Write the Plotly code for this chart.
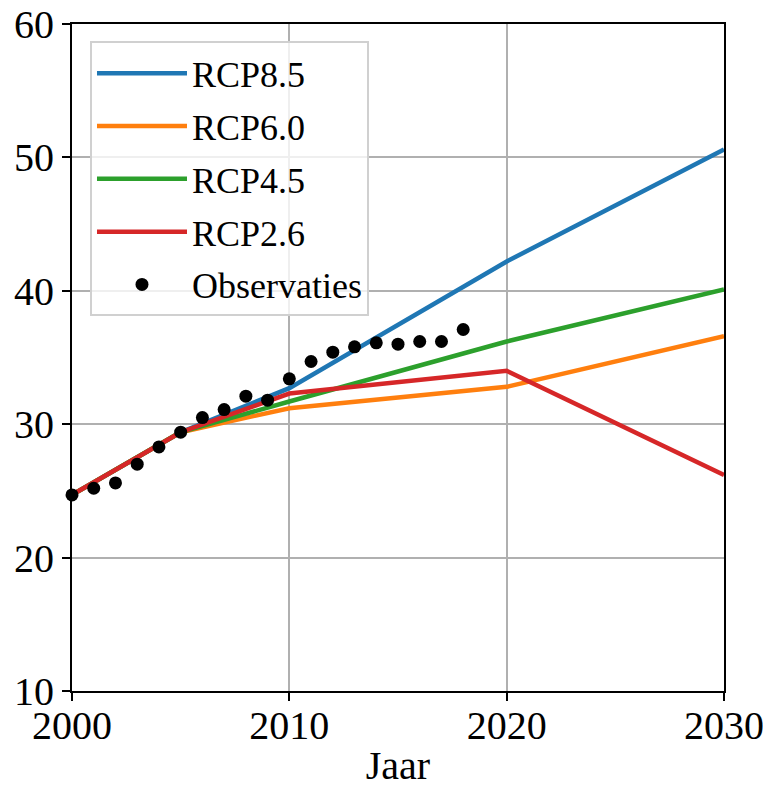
import plotly.graph_objects as go

scenario_years = [2000, 2005, 2010, 2020, 2030]
rcp85 = [24.7, 29.4, 32.7, 42.2, 50.6]
rcp60 = [24.7, 29.4, 31.2, 32.8, 36.6]
rcp45 = [24.7, 29.4, 31.7, 36.2, 40.1]
rcp26 = [24.7, 29.4, 32.3, 34.0, 26.2]

obs_years = list(range(2000, 2019))
obs_values = [24.7, 25.2, 25.6, 27.0, 28.3, 29.4, 30.5, 31.1, 32.1, 31.8,
              33.4, 34.7, 35.4, 35.8, 36.1, 36.0, 36.2, 36.2, 37.1]

x_ticks = [2000, 2010, 2020, 2030]
y_ticks = [10, 20, 30, 40, 50, 60]

font_family = "Liberation Serif, Times New Roman, serif"

fig = go.Figure()
series = [("RCP8.5", rcp85, "#1f77b4"), ("RCP6.0", rcp60, "#ff7f0e"),
          ("RCP4.5", rcp45, "#2ca02c"), ("RCP2.6", rcp26, "#d62728")]
for name, vals, col in series:
    fig.add_trace(go.Scatter(x=scenario_years, y=vals, mode="lines", name=name,
                             legendgroup=name, line=dict(color=col, width=4.5)))
fig.add_trace(go.Scatter(x=obs_years, y=obs_values, mode="markers", name="Observaties",
                         legendgroup="obs", marker=dict(color="black", size=13),
                         cliponaxis=False))

axis_common = dict(showline=True, linecolor="black", linewidth=2, mirror=True,
                   ticks="outside", ticklen=8, tickwidth=2, tickcolor="black",
                   showgrid=True, gridcolor="#b0b0b0", gridwidth=1.5, zeroline=False,
                   ticklabeloverflow="allow", automargin=False,
                   tickfont=dict(size=40, color="black", family=font_family))

fig.update_layout(
    width=763, height=783,
    margin=dict(l=64, r=47, t=16, b=100, autoexpand=False),
    plot_bgcolor="white", paper_bgcolor="white",
    font=dict(family=font_family, color="black"),
    xaxis=dict(range=[2000, 2030], tickvals=x_ticks, ticklabelstandoff=-10,
               title=dict(text="Jaar", font=dict(size=40, family=font_family), standoff=4),
               **axis_common),
    yaxis=dict(range=[10, 60], tickvals=y_ticks, **axis_common),
    legend=dict(x=0.0276, y=0.974, xanchor="left", yanchor="top",
                bgcolor="rgba(255,255,255,0.8)", bordercolor="#d0d0d0", borderwidth=2,
                font=dict(size=36, family=font_family, color="black"),
                itemwidth=90, tracegroupgap=3),
    showlegend=True,
)

fig.write_html("out.html")
